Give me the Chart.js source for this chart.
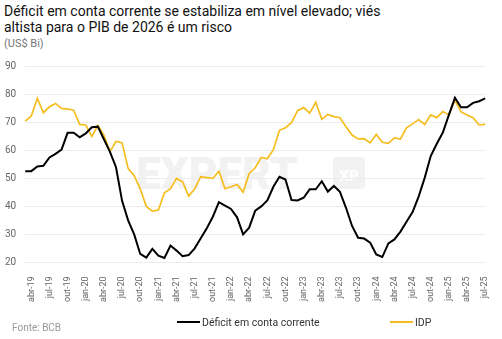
<!DOCTYPE html>
<html lang="pt-BR">
<head>
<meta charset="utf-8">
<title>Déficit em conta corrente x IDP</title>
<script src="https://cdn.jsdelivr.net/npm/chart.js@4.4.1/dist/chart.umd.min.js"></script>
<style>
  html, body { margin: 0; padding: 0; background: #fff; }
  body { width: 502px; height: 339px; position: relative; overflow: hidden; font-family: Roboto, "Noto Sans", sans-serif; }
  #chart { position: absolute; left: 0; top: 0; }
  .title { position: absolute; left: 4px; top: 3px; font-size: 14px; line-height: 16px; color: #111; font-weight: 400; }
  .unit { position: absolute; left: 4px; top: 37px; font-size: 11px; color: #777; }
  .mark { position: absolute; left: 136px; top: 148px; font-size: 44px; font-weight: 900; color: #f2f2f2; letter-spacing: 0px; }
  .mark-xp { position: absolute; left: 333px; top: 157px; width: 32px; height: 32px; border-radius: 4px; background: #f2f2f2; color: #fff; font-size: 15px; font-weight: 900; text-align: center; line-height: 38px; }
  .legend { position: absolute; top: 316px; font-size: 10.5px; color: #333; }
  .legend span.swatch { display: inline-block; width: 23px; height: 2px; vertical-align: middle; margin-right: 2px; position: relative; top: -1px; }
  .source { position: absolute; left: 12px; top: 322px; font-size: 10px; color: #999; }
</style>
</head>
<body>
<div class="mark">EXPERT</div>
<div class="mark-xp">XP</div>
<div class="title">Déficit em conta corrente se estabiliza em nível elevado; viés<br>altista para o PIB de 2026 é um risco</div>
<div class="unit">(US$ Bi)</div>
<canvas id="chart" width="502" height="339"></canvas>
<div class="legend" style="left:177px"><span class="swatch" style="background:#000"></span>Déficit em conta corrente</div>
<div class="legend" style="left:390px"><span class="swatch" style="background:#F5BD1F"></span>IDP</div>
<div class="source">Fonte: BCB</div>

<script>
// ==========================================
// Déficit em conta corrente x IDP (US$ bi, acum. 12m)
// ==========================================

// Monthly categories (mar-19 .. jul-25)
const months = [
  'mar-19', 'abr-19', 'mai-19', 'jun-19', 'jul-19', 'ago-19', 'set-19', 'out-19', 'nov-19', 'dez-19',
  'jan-20', 'fev-20', 'mar-20', 'abr-20', 'mai-20', 'jun-20', 'jul-20', 'ago-20', 'set-20', 'out-20', 'nov-20', 'dez-20',
  'jan-21', 'fev-21', 'mar-21', 'abr-21', 'mai-21', 'jun-21', 'jul-21', 'ago-21', 'set-21', 'out-21', 'nov-21', 'dez-21',
  'jan-22', 'fev-22', 'mar-22', 'abr-22', 'mai-22', 'jun-22', 'jul-22', 'ago-22', 'set-22', 'out-22', 'nov-22', 'dez-22',
  'jan-23', 'fev-23', 'mar-23', 'abr-23', 'mai-23', 'jun-23', 'jul-23', 'ago-23', 'set-23', 'out-23', 'nov-23', 'dez-23',
  'jan-24', 'fev-24', 'mar-24', 'abr-24', 'mai-24', 'jun-24', 'jul-24', 'ago-24', 'set-24', 'out-24', 'nov-24', 'dez-24',
  'jan-25', 'fev-25', 'mar-25', 'abr-25', 'mai-25', 'jun-25', 'jul-25'
];

// Quarterly tick labels shown on the x axis
const tickLabels = [
  'abr-19', 'jul-19', 'out-19', 'jan-20', 'abr-20', 'jul-20', 'out-20',
  'jan-21', 'abr-21', 'jul-21', 'out-21', 'jan-22', 'abr-22', 'jul-22', 'out-22',
  'jan-23', 'abr-23', 'jul-23', 'out-23', 'jan-24', 'abr-24', 'jul-24', 'out-24',
  'jan-25', 'abr-25', 'jul-25'
];

// Déficit em conta corrente
const deficit = [
  52.6, 52.6, 54.3, 54.5, 57.5, 58.8, 60.3, 66.3, 66.3, 64.7,
  66.1, 68.3, 68.5, 64.0, 59.5, 54.0, 42.0, 35.0, 30.0, 23.0,
  21.7, 24.8, 22.4, 21.6, 26.0, 24.2, 22.2, 22.6, 25.0, 28.6,
  32.2, 36.3, 41.5, 40.3, 39.1, 36.1, 30.0, 32.4, 38.5, 40.0,
  42.1, 47.0, 50.6, 49.6, 42.3, 42.1, 43.1, 46.1, 46.1, 49.0,
  45.3, 47.3, 45.2, 39.5, 33.0, 28.8, 28.5, 27.0, 22.8, 21.9,
  26.8, 28.2, 31.0, 34.5, 38.0, 43.5, 50.2, 58.0, 62.4, 66.4,
  72.7, 78.8, 75.4, 75.4, 77.0, 77.6, 78.6
];

// IDP (investimento direto no país)
const idp = [
  70.5, 72.3, 78.6, 73.5, 75.6, 76.8, 75.0, 74.8, 74.4, 69.3,
  69.1, 65.0, 68.9, 65.5, 59.6, 63.3, 62.7, 53.6, 51.0, 46.3,
  40.0, 38.3, 38.7, 44.9, 46.3, 50.0, 48.8, 43.7, 46.3, 50.6,
  50.3, 50.0, 52.6, 46.3, 47.0, 47.8, 45.1, 51.8, 53.8, 57.5,
  57.0, 60.3, 67.2, 68.1, 69.9, 74.2, 75.3, 73.3, 77.2, 71.1,
  72.9, 72.1, 71.7, 68.5, 65.5, 64.1, 64.2, 62.7, 65.7, 62.9,
  62.5, 64.5, 64.1, 68.1, 69.5, 71.0, 69.3, 72.7, 71.7, 73.9,
  72.7, 78.0, 73.8, 72.7, 71.7, 69.1, 69.3
];

const yTicks = [20, 30, 40, 50, 60, 70, 80, 90];

const tickFont = { family: 'Roboto', size: 10 };

new Chart(document.getElementById('chart'), {
  type: 'line',
  data: {
    labels: months,
    datasets: [
      {
        label: 'Déficit em conta corrente',
        data: deficit,
        borderColor: '#000',
        borderWidth: 2,
        pointRadius: 0,
        tension: 0
      },
      {
        label: 'IDP',
        data: idp,
        borderColor: '#F5BD1F',
        borderWidth: 1.7,
        pointRadius: 0,
        tension: 0
      }
    ]
  },
  options: {
    responsive: false,
    animation: false,
    devicePixelRatio: 1,
    layout: { padding: { left: -4, right: 15, top: 66.5, bottom: 31 } },
    plugins: {
      legend: { display: false },
      title: { display: false },
      tooltip: { enabled: false }
    },
    scales: {
      x: {
        offset: false,
        grid: { display: false },
        border: { display: false },
        ticks: {
          autoSkip: false,
          maxRotation: 90,
          minRotation: 90,
          padding: 6,
          color: '#666',
          font: { family: 'Roboto', size: 9 },
          callback: function (value) {
            const lab = months[value];
            return tickLabels.includes(lab) ? lab : '';
          }
        }
      },
      y: {
        min: yTicks[0],
        max: yTicks[yTicks.length - 1],
        afterBuildTicks: (axis) => { axis.ticks = yTicks.map(v => ({ value: v })); },
        grid: { color: '#ececec', drawTicks: false },
        border: { display: false },
        ticks: { color: '#666', font: tickFont, padding: 9 }
      }
    }
  }
});
</script>
</body>
</html>
